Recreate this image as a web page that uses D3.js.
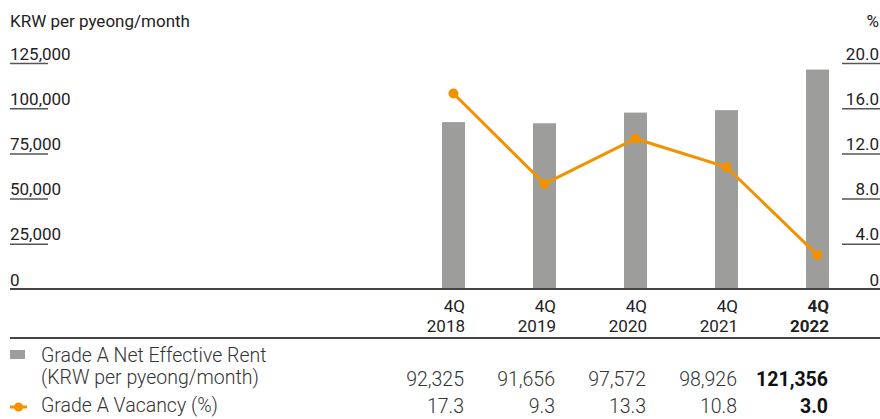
<!DOCTYPE html>
<html>
<head>
<meta charset="utf-8">
<script src="https://cdn.jsdelivr.net/npm/d3@7"></script>
<style>
  html, body { margin: 0; padding: 0; background: #fff; }
  svg { display: block; font-family: Roboto, "Noto Sans", sans-serif; }
</style>
</head>
<body>
<svg id="chart" width="880" height="419"></svg>
<script>
const quarters = ["4Q", "4Q", "4Q", "4Q", "4Q"];
const years = ["2018", "2019", "2020", "2021", "2022"];
const rent = [92325, 91656, 97572, 98926, 121356];
const vacancy = [17.3, 9.3, 13.3, 10.8, 3.0];
const leftTicks = [0, 25000, 50000, 75000, 100000, 125000];
const rightTicks = [0, 4, 8, 12, 16, 20];
const rentLabel = ["Grade A Net Effective Rent", "(KRW per pyeong/month)"];
const vacancyLabel = "Grade A Vacancy (%)";
const leftTitle = "KRW per pyeong/month";
const rightTitle = "%";

(function () {
const svg = d3.select("#chart");
const W = 880;
const base = 289, topY = 63;
const barW = 23;
const orange = "#f39200", grey = "#9d9d9c", ink = "#222";

const x = d3.scalePoint().domain(years).range([453.5, 817.5]);
const yL = d3.scaleLinear().domain([0, 125000]).range([base, topY]);
const yR = d3.scaleLinear().domain([0, 20]).range([base, topY]);
const fmt = d3.format(",");

// Titles
svg.append("text").attr("x", 10).attr("y", 27).attr("font-size", 17).attr("fill", ink).text(leftTitle);
svg.append("text").attr("x", 879).attr("y", 27).attr("font-size", 17).attr("fill", ink).attr("text-anchor", "end").text(rightTitle);

// Left axis
const gL = svg.append("g").attr("transform", "translate(10,0)")
  .call(d3.axisRight(yL).tickValues(leftTicks).tickSize(38).tickFormat(fmt));
gL.select(".domain").remove();
gL.selectAll(".tick line").attr("stroke", "#555").attr("stroke-width", 1.5)
  .attr("display", d => d === 0 ? "none" : null);
gL.selectAll(".tick text").attr("x", 0).attr("dy", null).attr("y", -4)
  .attr("text-anchor", "start").attr("font-size", 17).attr("fill", ink)
  .attr("font-family", "Roboto");

// Right axis
const gR = svg.append("g").attr("transform", `translate(${W},0)`)
  .call(d3.axisLeft(yR).tickValues(rightTicks).tickSize(38)
    .tickFormat(d => d === 0 ? "0" : d3.format(".1f")(d)));
gR.select(".domain").remove();
gR.selectAll(".tick line").attr("stroke", "#555").attr("stroke-width", 1.5)
  .attr("display", d => d === 0 ? "none" : null);
gR.selectAll(".tick text").attr("x", -1).attr("dy", null).attr("y", -4)
  .attr("text-anchor", "end").attr("font-size", 17).attr("fill", ink)
  .attr("font-family", "Roboto");

// Bars
svg.append("g").selectAll("rect").data(years).join("rect")
  .attr("x", d => x(d) - barW / 2)
  .attr("width", barW)
  .attr("y", (d, i) => yL(rent[i]))
  .attr("height", (d, i) => base - yL(rent[i]))
  .attr("fill", grey);

// Baseline
svg.append("line").attr("x1", 10).attr("x2", W).attr("y1", base).attr("y2", base)
  .attr("stroke", "#444").attr("stroke-width", 2);

// Vacancy line
const line = d3.line().x((d, i) => x(years[i])).y(d => yR(d));
svg.append("path").datum(vacancy).attr("d", line)
  .attr("fill", "none").attr("stroke", orange).attr("stroke-width", 3);
svg.append("g").selectAll("circle").data(vacancy).join("circle")
  .attr("cx", (d, i) => x(years[i])).attr("cy", d => yR(d)).attr("r", 5)
  .attr("fill", orange);

// X labels (right aligned to bar right edge)
const xl = svg.append("g").selectAll("text").data(years).join("text")
  .attr("x", d => x(d) + barW / 2)
  .attr("text-anchor", "end").attr("font-size", 17).attr("fill", ink)
  .attr("font-weight", (d, i) => i === years.length - 1 ? "bold" : null);
xl.append("tspan").attr("x", d => x(d) + barW / 2).attr("y", 312).text((d, i) => quarters[i]);
xl.append("tspan").attr("x", d => x(d) + barW / 2).attr("y", 331.5).text(d => d);

// Table header line
svg.append("line").attr("x1", 10).attr("x2", W).attr("y1", 338).attr("y2", 338)
  .attr("stroke", "#444").attr("stroke-width", 2);

// Legend / table
svg.append("rect").attr("x", 10).attr("y", 350).attr("width", 15).attr("height", 9).attr("fill", grey);
svg.append("line").attr("x1", 10).attr("x2", 27).attr("y1", 407).attr("y2", 407)
  .attr("stroke", orange).attr("stroke-width", 3);
svg.append("circle").attr("cx", 18.5).attr("cy", 407).attr("r", 4.5).attr("fill", orange);

const tStyle = s => s.attr("font-size", 19.5).attr("fill", "#333").attr("font-weight", 300);
svg.append("text").attr("x", 41).attr("y", 361.5).call(tStyle).text(rentLabel[0]);
svg.append("text").attr("x", 41).attr("y", 383.5).call(tStyle).text(rentLabel[1]);
svg.append("text").attr("x", 41).attr("y", 411.5).call(tStyle).text(vacancyLabel);

svg.append("g").selectAll("text").data(rent).join("text")
  .attr("x", (d, i) => x(years[i]) + barW / 2 - 1).attr("y", 385.5)
  .attr("text-anchor", "end").call(tStyle)
  .attr("font-weight", (d, i) => i === rent.length - 1 ? "bold" : 300)
  .attr("fill", (d, i) => i === rent.length - 1 ? "#111" : "#333")
  .text(d => fmt(d));
svg.append("g").selectAll("text").data(vacancy).join("text")
  .attr("x", (d, i) => x(years[i]) + barW / 2 - 1).attr("y", 413)
  .attr("text-anchor", "end").call(tStyle)
  .attr("font-weight", (d, i) => i === vacancy.length - 1 ? "bold" : 300)
  .attr("fill", (d, i) => i === vacancy.length - 1 ? "#111" : "#333")
  .text(d => d3.format(".1f")(d));
})();
</script>
</body>
</html>
